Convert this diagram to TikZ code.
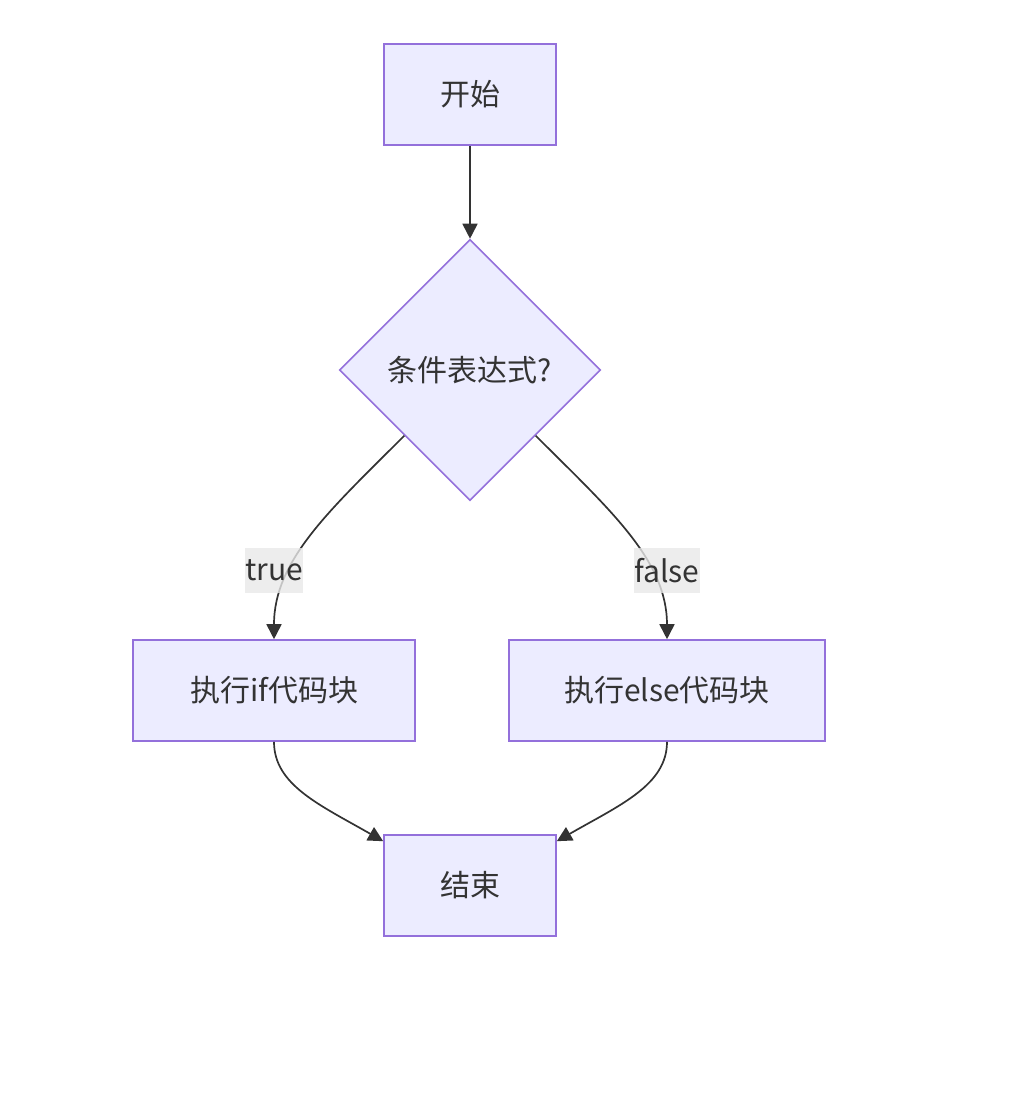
\documentclass[tikz,border=0pt]{standalone}
\usepackage{fontspec}
\setmainfont{Noto Sans CJK SC}
\usetikzlibrary{shapes.geometric,arrows.meta,calc}
\definecolor{nodefill}{HTML}{ECECFF}
\definecolor{nodeline}{HTML}{9370DB}
\definecolor{edgecol}{HTML}{333333}
\definecolor{lblbg}{HTML}{E8E8E8}
\tikzset{
  box/.style={draw=nodeline, fill=nodefill, line width=1.6pt, rectangle, inner sep=0pt,
    minimum height=101pt, text=edgecol, font=\fontsize{30}{36}\selectfont},
  decision/.style={draw=nodeline, fill=nodefill, line width=1.6pt, diamond, inner sep=0pt,
    minimum width=261pt, minimum height=261pt, text=edgecol, font=\fontsize{30}{36}\selectfont},
  edgelabel/.style={fill=lblbg, fill opacity=0.8, text opacity=1, inner sep=0pt,
    minimum height=45pt, text=edgecol, font=\fontsize{30}{36}\selectfont},
  flow/.style={draw=edgecol, line width=1.7pt, -{Triangle[length=15pt,width=15pt]}},
}
\begin{document}
\begin{tikzpicture}[x=1pt,y=-1pt]
\useasboundingbox (0,0) rectangle (1009,1098);
\node[box, minimum width=172pt] (start) at (470,94.5) {开始};
\node[decision] (cond) at (470,370) {条件表达式?};
\node[box, minimum width=282pt] (ifb) at (274,690.5) {执行if代码块};
\node[box, minimum width=316pt] (elseb) at (667,690.5) {执行else代码块};
\node[box, minimum width=172pt] (stop) at (470,885.5) {结束};

\draw[flow] (start.south) -- (cond.north);
\draw[flow] (cond.south west) .. controls (330,510) and (274,560) .. (ifb.north);
\draw[flow] (cond.south east) .. controls (610,510) and (667,560) .. (elseb.north);
\draw[flow] (ifb.south) .. controls (274,785) and (320,805) .. ($(stop.north west)+(0,7)$);
\draw[flow] (elseb.south) .. controls (667,785) and (620,805) .. ($(stop.north east)+(0,7)$);

\node[edgelabel, minimum width=56pt] (lt) at (274,570.5) {true};
\node[edgelabel, minimum width=64pt] (lf) at (667,570.5) {false};
\end{tikzpicture}
\end{document}
